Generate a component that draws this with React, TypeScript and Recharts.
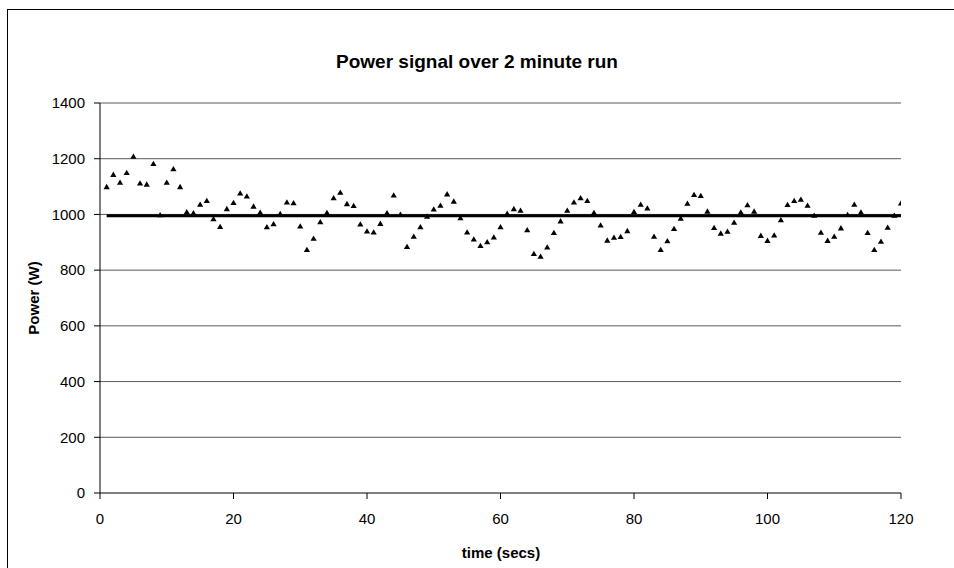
import { ComposedChart, CartesianGrid, Line, Scatter, XAxis, YAxis } from 'recharts'

const FONT = '"Liberation Sans", Arial, Helvetica, sans-serif'

// seconds into the run, one sample per second
const seconds = [
  1, 2, 3, 4, 5, 6, 7, 8, 9, 10, 11, 12, 13, 14, 15, 16, 17, 18, 19, 20,
  21, 22, 23, 24, 25, 26, 27, 28, 29, 30, 31, 32, 33, 34, 35, 36, 37, 38, 39, 40,
  41, 42, 43, 44, 45, 46, 47, 48, 49, 50, 51, 52, 53, 54, 55, 56, 57, 58, 59, 60,
  61, 62, 63, 64, 65, 66, 67, 68, 69, 70, 71, 72, 73, 74, 75, 76, 77, 78, 79, 80,
  81, 82, 83, 84, 85, 86, 87, 88, 89, 90, 91, 92, 93, 94, 95, 96, 97, 98, 99, 100,
  101, 102, 103, 104, 105, 106, 107, 108, 109, 110, 111, 112, 113, 114, 115, 116, 117, 118, 119, 120,
]

// measured power (W)
const power = [
  1099, 1143, 1115, 1150, 1208, 1112, 1108, 1182, 998, 1115, 1163, 1099, 1009, 1005, 1036, 1049, 984, 956, 1020, 1042,
  1076, 1065, 1029, 1007, 955, 966, 1002, 1044, 1041, 958, 873, 914, 973, 1006, 1059, 1079, 1038, 1031, 965, 940,
  936, 967, 1005, 1069, 1000, 884, 921, 955, 993, 1019, 1032, 1073, 1047, 987, 936, 911, 888, 901, 918, 955,
  1003, 1020, 1014, 944, 859, 849, 882, 934, 976, 1014, 1044, 1059, 1049, 1006, 961, 907, 917, 920, 941, 1010,
  1036, 1022, 921, 873, 905, 949, 986, 1039, 1071, 1067, 1011, 952, 932, 939, 971, 1008, 1034, 1011, 924, 906,
  925, 980, 1035, 1049, 1054, 1032, 996, 935, 906, 921, 951, 999, 1036, 1008, 934, 873, 903, 953, 996, 1040,
]

// average power line
const meanSeconds = [1, 120]
const meanPower = [995, 995]

const xTicks = [0, 20, 40, 60, 80, 100, 120]
const yTicks = [0, 200, 400, 600, 800, 1000, 1200, 1400]

const samples = seconds.map((t, i) => ({ t, p: power[i] }))
const meanData = meanSeconds.map((t, i) => ({ t, m: meanPower[i] }))

const Triangle = (props: any) => {
  const { cx, cy } = props
  if (cx == null || cy == null) return null
  return <path d={`M${cx},${cy - 3} L${cx + 3.1},${cy + 2.3} L${cx - 3.1},${cy + 2.3} Z`} fill="#000" />
}

export default function App() {
  return (
    <div
      style={{
        position: 'fixed',
        left: 0,
        top: 0,
        width: 954,
        height: 568,
        background: '#fff',
        overflow: 'hidden',
        fontFamily: FONT,
      }}
    >
      <div
        style={{
          position: 'absolute',
          left: 7,
          top: 9,
          width: 1000,
          height: 600,
          borderLeft: '1.5px solid #000',
          borderTop: '1.5px solid #000',
        }}
      />
      <div
        style={{
          position: 'absolute',
          left: 0,
          top: 51,
          width: 954,
          textAlign: 'center',
          fontSize: 19,
          fontWeight: 'bold',
          color: '#000',
        }}
      >
        Power signal over 2 minute run
      </div>
      <div
        style={{
          position: 'absolute',
          left: 0,
          top: 544,
          width: 1002,
          textAlign: 'center',
          fontSize: 15,
          fontWeight: 'bold',
          color: '#000',
        }}
      >
        time (secs)
      </div>
      <div
        style={{
          position: 'absolute',
          left: 33,
          top: 298,
          transform: 'translate(-50%, -50%) rotate(-90deg)',
          fontSize: 15,
          fontWeight: 'bold',
          whiteSpace: 'nowrap',
          color: '#000',
        }}
      >
        Power (W)
      </div>
      <div style={{ position: 'absolute', left: 0, top: 0 }}>
        <ComposedChart width={954} height={568} margin={{ top: 103, right: 53, left: 40, bottom: 0 }}>
          <CartesianGrid
            yAxisId="l"
            vertical={false}
            horizontalValues={[200, 400, 600, 800, 1000, 1200, 1400]}
            stroke="#5a5a5a"
            strokeWidth={1}
          />
          <XAxis
            dataKey="t"
            type="number"
            domain={[0, 120]}
            ticks={xTicks}
            allowDataOverflow
            stroke="#000"
            tickSize={6}
            tickMargin={14}
            tick={{ fontSize: 15, fill: '#000', fontFamily: FONT }}
            height={75}
          />
          <YAxis
            yAxisId="l"
            type="number"
            domain={[0, 1400]}
            ticks={yTicks}
            stroke="#000"
            tickSize={6}
            tickMargin={9}
            width={60}
            tick={{ fontSize: 15, fill: '#000', fontFamily: FONT }}
          />
          <YAxis yAxisId="r" orientation="right" domain={[0, 1400]} stroke="#000" tick={false} tickLine={false} width={0} />
          <Line
            yAxisId="l"
            data={meanData}
            dataKey="m"
            stroke="#000"
            strokeWidth={3}
            dot={false}
            isAnimationActive={false}
          />
          <Scatter yAxisId="l" data={samples} dataKey="p" shape={Triangle} isAnimationActive={false} />
        </ComposedChart>
      </div>
    </div>
  )
}
